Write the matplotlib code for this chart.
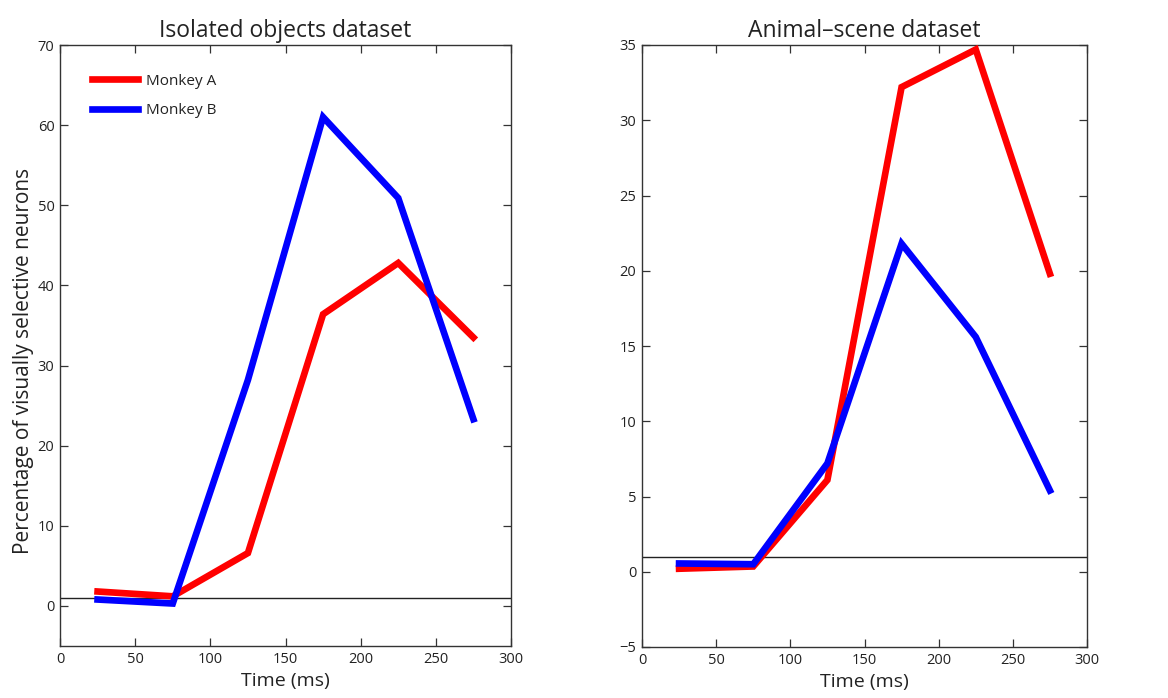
import matplotlib
matplotlib.use("Agg")
import matplotlib.pyplot as plt

plt.rcParams['font.family'] = ['Open Sans', 'DejaVu Sans']

time_ms = [25, 75, 125, 175, 225, 275]

# Isolated objects dataset
objects_monkey_a = [1.8, 1.2, 6.6, 36.4, 42.8, 33.5]
objects_monkey_b = [0.8, 0.3, 28.2, 61.0, 50.9, 23.3]

# Animal-scene dataset
scene_monkey_a = [0.2, 0.35, 6.1, 32.2, 34.7, 19.8]
scene_monkey_b = [0.55, 0.5, 7.2, 21.8, 15.6, 5.4]

chance_level = 1.0
series_labels = ["Monkey A", "Monkey B"]
panel_titles = ["Isolated objects dataset", "Animal\u2013scene dataset"]

W, H = 1168, 698
fig = plt.figure(figsize=(W / 100, H / 100), dpi=100)

def px_axes(x0, x1, y0, y1):
    return fig.add_axes([x0 / W, 1 - y1 / H, (x1 - x0) / W, (y1 - y0) / H])

ax1 = px_axes(60, 511, 45, 646)
ax2 = px_axes(642, 1087, 45, 647)

spine_col = "#333333"
text_col = "#222222"

def style(ax, ylim, yticks):
    ax.set_xlim(0, 300)
    ax.set_ylim(*ylim)
    ax.set_xticks(range(0, 301, 50))
    ax.set_yticks(yticks)
    ax.tick_params(direction="in", top=True, right=True, length=6,
                   width=0.9, color=spine_col, labelsize=10.5,
                   labelcolor=text_col, pad=4)
    for s in ax.spines.values():
        s.set_color(spine_col)
        s.set_linewidth(1.0)
    ax.axhline(chance_level, color="#222222", lw=1.0, zorder=1)
    ax.set_xlabel("Time (ms)", fontsize=14, color=text_col, labelpad=4)

lw = 4.8
ax1.plot(time_ms, objects_monkey_a, color="#ff0000", lw=lw, label=series_labels[0],
         solid_joinstyle="miter", zorder=3)
ax1.plot(time_ms, objects_monkey_b, color="#0000ff", lw=lw, label=series_labels[1],
         solid_joinstyle="miter", zorder=4)
style(ax1, (-5, 70), range(0, 71, 10))
ax1.set_title(panel_titles[0], fontsize=16.5, color=text_col, pad=6)
ax1.set_ylabel("Percentage of visually selective neurons", fontsize=15,
               color=text_col, labelpad=5)
ax1.yaxis.set_label_coords(-0.058, 0.475)
leg = ax1.legend(loc="upper left", frameon=False, fontsize=11,
                 handlelength=3.0, handletextpad=0.55, labelspacing=0.95,
                 bbox_to_anchor=(0.03, 0.983), borderaxespad=0.8)
for t in leg.get_texts():
    t.set_color(text_col)

ax2.plot(time_ms, scene_monkey_a, color="#ff0000", lw=lw, solid_joinstyle="miter", zorder=3)
ax2.plot(time_ms, scene_monkey_b, color="#0000ff", lw=lw, solid_joinstyle="miter", zorder=4)
style(ax2, (-5, 35), range(-5, 36, 5))
ax2.set_title(panel_titles[1], fontsize=16.5, color=text_col, pad=6)

fig.savefig("out.png", dpi=100, facecolor="white")
